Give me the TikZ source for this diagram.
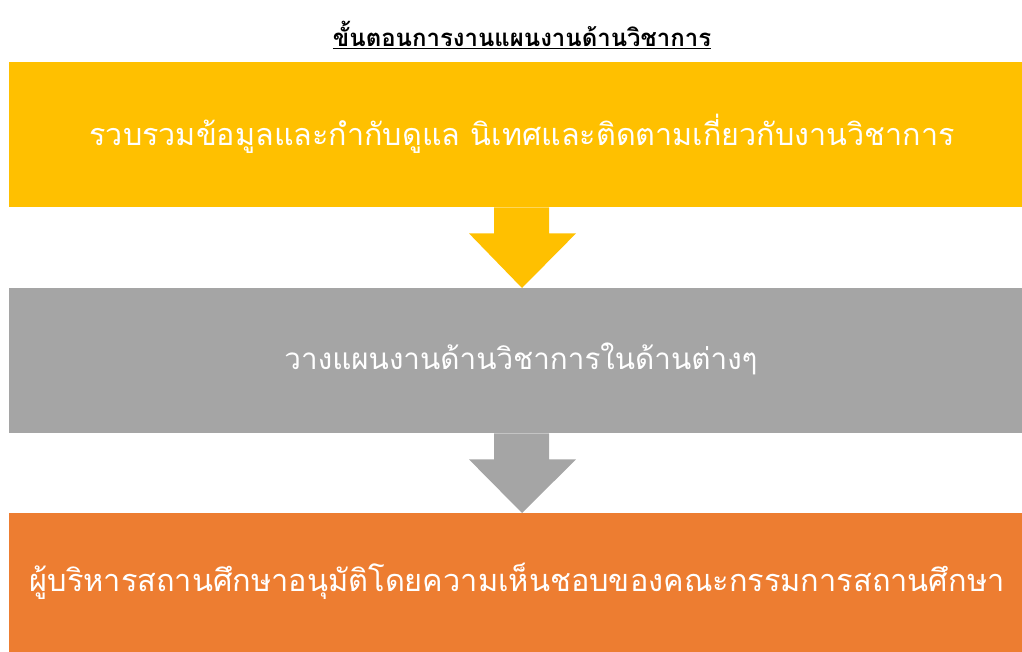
\documentclass[tikz,border=0pt]{standalone}
\usepackage{fontspec}
\newfontfamily\thai[Script=Thai]{Loma}
\usetikzlibrary{calc}
\definecolor{cyellow}{HTML}{FFC000}
\definecolor{cgray}{HTML}{A5A5A5}
\definecolor{corange}{HTML}{ED7D31}
\tikzset{
  stepbox/.style={rectangle, inner sep=0pt, minimum width=1013pt, minimum height=145pt},
  steptext/.style={inner sep=0pt, text=white, font=\thai\fontsize{30}{36}\selectfont}
}
\begin{document}
\begin{tikzpicture}[x=1pt,y=-1pt]
\useasboundingbox (0,0) rectangle (1022,652);
\node[inner sep=0pt, font=\thai\bfseries\fontsize{22}{26}\selectfont, text=black] (title) at (522,35) {\resizebox{378pt}{!}{\underline{ขั้นตอนการงานแผนงานด้านวิชาการ}}};
\node[stepbox, fill=cyellow, anchor=north west] (b1) at (9,62) {};
\node[steptext] (t1) at (522,134) {\resizebox{865pt}{!}{รวบรวมข้อมูลและกำกับดูแล นิเทศและติดตามเกี่ยวกับงานวิชาการ}};
\node[stepbox, fill=cgray, anchor=north west] (b2) at (9,288) {};
\node[steptext] (t2) at (521,359) {\resizebox{473pt}{!}{วางแผนงานด้านวิชาการในด้านต่างๆ}};
\node[stepbox, fill=corange, anchor=north west, minimum height=139pt] (b3) at (9,513) {};
\node[steptext] (t3) at (517,581) {\resizebox{975pt}{!}{ผู้บริหารสถานศึกษาอนุมัติโดยความเห็นชอบของคณะกรรมการสถานศึกษา}};
% arrows
\coordinate (a1) at (b1.south -| 522,0);
\fill[cyellow] ($(a1)+(-28,0)$) -- ($(a1)+(27,0)$) -- ($(a1)+(27,26)$) -- ($(a1)+(54,26)$) -- (b2.north -| a1) -- ($(a1)+(-53,26)$) -- ($(a1)+(-28,26)$) -- cycle;
\coordinate (a2) at (b2.south -| 522,0);
\fill[cgray] ($(a2)+(-28,0)$) -- ($(a2)+(27,0)$) -- ($(a2)+(27,26)$) -- ($(a2)+(54,26)$) -- (b3.north -| a2) -- ($(a2)+(-53,26)$) -- ($(a2)+(-28,26)$) -- cycle;
\end{tikzpicture}
\end{document}
